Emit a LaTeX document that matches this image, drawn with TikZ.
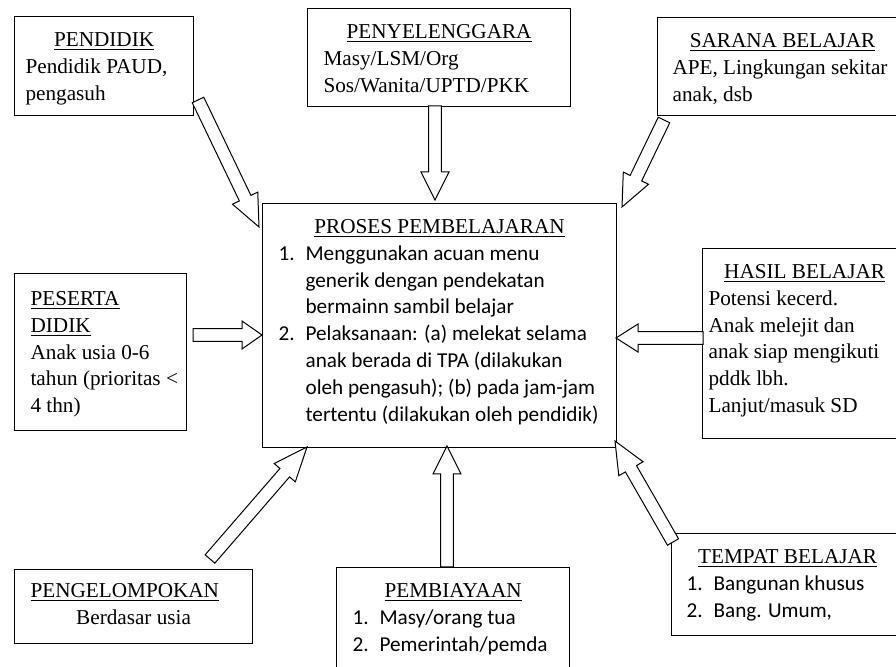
\documentclass[tikz,border=0pt]{standalone}
\usepackage{fontspec}
\setmainfont{Liberation Serif}
\newfontfamily\calibri{Carlito}
\usetikzlibrary{calc}

\newcommand\inbox[4][8pt]{\parbox[c][#3][t]{#2}{\raggedright\leftskip=#1\relax #4}}
\newcommand\boxtitle[1]{\centerline{\rule{0pt}{15pt}\underline{#1}}}
\newcommand\numitem[2]{\par\hangindent=13.5pt\hangafter=1\noindent\makebox[13.5pt][l]{#1}#2\par}
\def\shafthw{3.2pt}
\def\headhw{7pt}
\newcommand\blockarrow[3][14pt]{%
  \coordinate (ba-base) at ($(#3)!#1!(#2)$);
  \draw[blockarr] ($(#2)!\shafthw!90:(#3)$) -- ($(ba-base)!\shafthw!90:(#3)$)
    -- ($(ba-base)!\headhw!90:(#3)$) -- (#3) -- ($(ba-base)!\headhw!-90:(#3)$)
    -- ($(ba-base)!\shafthw!-90:(#3)$) -- ($(#2)!\shafthw!-90:(#3)$) -- cycle;}

\begin{document}
\begin{tikzpicture}[x=0.5pt,y=-0.5pt,
  every node/.style={font=\fontsize{10.6pt}{13.4pt}\selectfont},
  box/.style={draw,line width=0.6pt,inner sep=0pt,anchor=north west,fill=white},
  blockarr/.style={draw,line width=0.5pt,fill=white,line join=miter}]
\useasboundingbox (0,0) rectangle (896,667);
\clip (0,0) rectangle (896,667);

\node[box] (pendidik) at (14,16) {\inbox[5.5pt]{89.5pt}{49.5pt}{\boxtitle{PENDIDIK}Pendidik PAUD,\\pengasuh}};
\node[box] (penyelenggara) at (307,8) {\inbox{131.5pt}{49pt}{\boxtitle{PENYELENGGARA}Masy/LSM/Org\\Sos/Wanita/UPTD/PKK}};
\node[box] (sarana) at (657,17) {\inbox[7.5pt]{125pt}{49pt}{\boxtitle{SARANA BELAJAR}APE, Lingkungan sekitar\\anak, dsb}};
\node[box] (peserta) at (14,273) {\inbox{86pt}{78.5pt}{\rule{0pt}{16pt}\underline{PESERTA}\\\underline{DIDIK}\\Anak usia 0-6\\tahun (prioritas <\\4 thn)}};
\node[box] (proses) at (262,203) {\inbox{177pt}{122pt}{\boxtitle{PROSES PEMBELAJARAN}\calibri
  \numitem{1.}{Menggunakan acuan menu\newline generik dengan pendekatan\newline bermainn sambil belajar}
  \numitem{2.}{Pelaksanaan: (a) melekat selama\newline anak berada di TPA (dilakukan\newline oleh pengasuh); (b) pada jam-jam\newline tertentu (dilakukan oleh pendidik)}}};
\node[box] (hasil) at (702,248) {\inbox[3pt]{102pt}{95pt}{\boxtitle{HASIL BELAJAR}Potensi kecerd.\\Anak melejit dan\\anak siap mengikuti\\pddk lbh.\\Lanjut/masuk SD}};
\node[box] (pengelompokan) at (14,569) {\inbox{119pt}{37pt}{\rule{0pt}{14pt}\underline{PENGELOMPOKAN}\par\centerline{Berdasar usia}}};
\node[box] (pembiayaan) at (336,567) {\inbox{116.5pt}{60pt}{\boxtitle{PEMBIAYAAN}\calibri
  \numitem{1.}{Masy/orang tua}\numitem{2.}{Pemerintah/pemda}}};
\node[box] (tempat) at (671,533) {\inbox[7.5pt]{116pt}{51pt}{\boxtitle{TEMPAT BELAJAR}\calibri
  \numitem{1.}{Bangunan khusus}\numitem{2.}{Bang. Umum,}}};

\coordinate (pendidik-out) at (198,100);      \coordinate (proses-in1) at (259,227);
\coordinate (penyelenggara-out) at (435,106); \coordinate (proses-in2) at (435,200);
\coordinate (sarana-out) at (664,120);        \coordinate (proses-in3) at (622,207);
\coordinate (peserta-out) at (193,335);       \coordinate (proses-in4) at (262,335);
\coordinate (hasil-out) at (703,338);         \coordinate (proses-in5) at (616,338);
\coordinate (pengelompokan-out) at (210,559); \coordinate (proses-in6) at (307,447);
\coordinate (pembiayaan-out) at (447,567);    \coordinate (proses-in7) at (447,446);
\coordinate (tempat-out) at (673,542);        \coordinate (proses-in8) at (615,441);

\blockarrow[16pt]{pendidik-out}{proses-in1}
\blockarrow{penyelenggara-out}{proses-in2}
\blockarrow[16pt]{sarana-out}{proses-in3}
\blockarrow[10pt]{peserta-out}{proses-in4}
\blockarrow[11pt]{hasil-out}{proses-in5}
\blockarrow[17pt]{pengelompokan-out}{proses-in6}
\blockarrow{pembiayaan-out}{proses-in7}
\blockarrow[16pt]{tempat-out}{proses-in8}
\end{tikzpicture}
\end{document}
